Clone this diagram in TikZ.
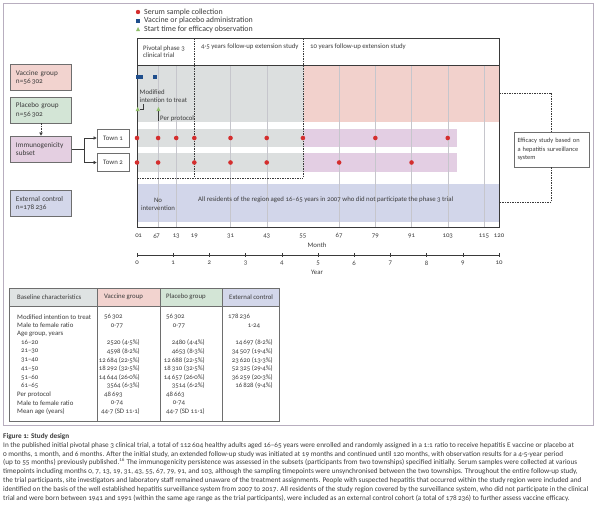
\documentclass[tikz,border=0pt]{standalone}
\usepackage{fontspec}
\setmainfont{Carlito}[Numbers=OldStyle]
\usetikzlibrary{arrows.meta}

\definecolor{inkgrey}{HTML}{3A3A3A}
\definecolor{boxgrey}{HTML}{6E6E6E}
\definecolor{framec}{HTML}{B8AEBF}
\definecolor{vacpink}{HTML}{F2D3CF}
\definecolor{placgreen}{HTML}{D3E5D6}
\definecolor{immlilac}{HTML}{E4CFE1}
\definecolor{extblue}{HTML}{D3D7EA}
\definecolor{bandgrey}{HTML}{DCDFDF}
\definecolor{bandpink}{HTML}{F2D1CC}
\definecolor{bandlilac}{HTML}{E3CEE3}
\definecolor{bandblue}{HTML}{D2D6EA}
\definecolor{thgrey}{HTML}{DFE3E3}
\definecolor{gridc}{HTML}{C6C6CC}
\definecolor{dotred}{HTML}{D42E2E}
\definecolor{sqblue}{HTML}{1F4E8C}
\definecolor{trigreen}{HTML}{8FBF6A}

\tikzset{
  txt/.style={font=\fontsize{6.8}{7.6}\selectfont, text=inkgrey, inner sep=0pt},
  legtxt/.style={font=\fontsize{7.9}{8.4}\selectfont, text=inkgrey, inner sep=0pt, anchor=west},
  grpbox/.style={draw=boxgrey, line width=0.6pt, font=\fontsize{7.2}{8.6}\selectfont, text=inkgrey,
    text width=50pt, inner xsep=5.5pt, inner ysep=0pt, minimum height=26pt, align=left},
  townbox/.style={draw=boxgrey, line width=0.6pt, fill=white, font=\fontsize{6.8}{7.6}\selectfont,
    text=inkgrey, minimum width=32pt, minimum height=18pt, inner sep=0pt},
  effbox/.style={draw=boxgrey, line width=0.6pt, fill=white, font=\fontsize{6.4}{8.6}\selectfont,
    text=inkgrey, text width=68pt, inner xsep=3.5pt, minimum height=35pt, align=left},
  arr/.style={-{Triangle[length=3.2pt,width=3.2pt]}, draw=inkgrey, line width=0.5pt},
  dashln/.style={draw=inkgrey, line width=0.45pt, dash pattern=on 1.5pt off 1pt},
  gridln/.style={draw=gridc, line width=0.35pt},
  axisln/.style={draw=inkgrey, line width=0.6pt},
}

\begin{document}
\begin{tikzpicture}[x=1pt,y=-1pt]
    \useasboundingbox (0,0) rectangle (600,514);
    \draw[framec, line width=0.9pt] (3,3) rectangle (593,425);

    \fill[dotred] (138,12) circle (2.2);
    \node[legtxt] (lgserum) at (144,12) {Serum sample collection};
    \fill[sqblue] (136,18.5) rectangle (140,22.5);
    \node[legtxt] (lgvacc) at (144,20.5) {Vaccine or placebo administration};
    \fill[trigreen] (136,31) -- (140,31) -- (138,27) -- cycle;
    \node[legtxt] (lgstart) at (144,29) {Start time for efficacy observation};

    \fill[bandgrey] (137,65) rectangle (304,122);
    \fill[bandpink] (304,65) rectangle (499,122);
    \fill[bandgrey] (137,129) rectangle (304,147);
    \fill[bandlilac] (304,129) rectangle (457,147);
    \fill[bandgrey] (137,153) rectangle (304,172);
    \fill[bandlilac] (304,153) rectangle (457,172);
    \fill[bandblue] (137,184) rectangle (499,222);

    \foreach \m in {7,13,31,43,67,79,91,103,115}
        \draw[gridln] ({137+3.017*\m},65) -- ({137+3.017*\m},227);

    \draw[dashln] ({137+3.017*19},38) -- ({137+3.017*19},178);
    \draw[dashln] ({137+3.017*55},38) -- ({137+3.017*55},178);
    \draw[dashln] (137,178) -- ({137+3.017*55},178);

    \draw[axisln] (137,38) rectangle (499,227);
    \draw[axisln] (137,65) -- (499,65);

    \node[txt, anchor=west, align=left] (hdpivot) at (143,51.5) {Pivotal phase 3\\clinical trial};
    \node[txt, anchor=west] (hdfollow) at (201,47) {4·5 years follow-up extension study};
    \node[txt, anchor=west] (hdten) at (310,47) {10 years follow-up extension study};

    \fill[sqblue] (136,75) rectangle (143,79);
    \fill[sqblue] (153,75) rectangle (157,79);

    \node[txt, anchor=west, align=left] (mitt) at (139.5,96) {Modified\\intention to treat};
    \fill[trigreen] (135.7,111) -- (139.7,111) -- (137.7,107) -- cycle;
    \draw[inkgrey, line width=0.5pt] (139.5,109.5) -| (143.5,103.5);
    \fill[trigreen] (156.4,111) -- (160.4,111) -- (158.4,107) -- cycle;
    \draw[inkgrey, line width=0.5pt] (158.4,111) -- (158.4,121);
    \node[txt, anchor=west] (perprot) at (160,118.5) {Per protocol};

    \foreach \m in {0,7,13,19,31,43,55,79,103}
        \fill[dotred] ({137+3.017*\m},138) circle (2.3);
    \foreach \m in {0,7,19,31,43,67,91}
        \fill[dotred] ({137+3.017*\m},162.5) circle (2.3);

    \node[txt, align=center] (nointerv) at (158,204.5) {No\\intervention};
    \node[txt, anchor=west] (allres) at (198,200) {All residents of the region aged 16–65 years in 2007 who did not participate the phase 3 trial};

    \foreach \m in {0,1,6,7,13,19,31,43,55,67,79,91,103,115,120}
        \node[txt] (mo\m) at ({137+3.017*\m},236) {\m};
    \node[txt] (monthlab) at (317,245) {Month};

    \draw[axisln] (137,255) -- (499,255);
    \foreach \y in {0,...,10} {
        \draw[axisln] ({137+36.2*\y},253) -- ({137+36.2*\y},257);
        \node[txt] (yr\y) at ({137+36.2*\y},263) {\y};
    }
    \node[txt] (yearlab) at (317,272) {Year};

    \node[grpbox, fill=vacpink] (vacgrp) at (41,77.5) {Vaccine group\\n=56\,302};
    \node[grpbox, fill=placgreen] (placgrp) at (41,110) {Placebo group\\n=56\,302};
    \node[grpbox, fill=immlilac] (immsub) at (41,149) {Immunogenicity\\subset};
    \node[grpbox, fill=extblue] (extctl) at (41,203.5) {External control\\n=178\,236};
    \node[townbox] (town1) at (113,138) {Town 1};
    \node[townbox] (town2) at (113,162.5) {Town 2};

    \draw[arr, dashln] (placgrp.south) -- (immsub.north);
    \draw[inkgrey, line width=0.5pt] (immsub.east) -- ++(12,0) coordinate (fork);
    \draw[arr] (fork) |- (town1.west);
    \draw[arr] (fork) |- (town2.west);

    \node[effbox] (effbox) at (551.5,149.5) {Efficacy study based on\\a hepatitis surveillance\\system};
    \coordinate (pinkend) at (499,93);
    \coordinate (blueend) at (499,202);
    \draw[dashln] (pinkend) -| (effbox.north);
    \draw[dashln] (effbox.south) |- (blueend);

    \fill[thgrey] (9,288) rectangle (97,306);
    \fill[vacpink] (97,288) rectangle (160,306);
    \fill[placgreen] (160,288) rectangle (222,306);
    \fill[extblue] (222,288) rectangle (279,306);
    \draw[axisln, draw=boxgrey] (9,288) rectangle (279,421);
    \draw[axisln, draw=boxgrey] (9,306) -- (279,306);
    \foreach \x in {97,160,222}
        \draw[axisln, draw=boxgrey] (\x,288) -- (\x,421);

    \node[txt, anchor=west] (thbase) at (17,297) {Baseline characteristics};
    \node[txt, anchor=west] (thvac) at (104,297) {Vaccine group};
    \node[txt, anchor=west] (thplac) at (166,297) {Placebo group};
    \node[txt, anchor=west] (thext) at (229,297) {External control};

    \foreach \lab [count=\i] in {Modified intention to treat, Male to female ratio, {Age group, years},
        \hspace{4pt}16–20, \hspace{4pt}21–30, \hspace{4pt}31–40, \hspace{4pt}41–50, \hspace{4pt}51–60,
        \hspace{4pt}61–65, Per protocol, Male to female ratio, Mean age (years)}
        \node[txt, anchor=west] (rowlab\i) at (17,{317+8.6*(\i-1)}) {\lab};

    \node[txt, anchor=west] (vacmitt) at (104,317) {56\,302};
    \node[txt, anchor=west] (placmitt) at (166,317) {56\,302};
    \node[txt, anchor=west] (extmitt) at (228,317) {178\,236};
    \node[txt] (vacratio) at (117,325.6) {0·77};
    \node[txt] (placratio) at (179,325.6) {0·77};
    \node[txt] (extratio) at (254,325.6) {1·24};
    \foreach \v/\p/\e [count=\i from 4] in {2520 (4·5\%)/2480 (4·4\%)/14\,697 (8·2\%),
        4598 (8·2\%)/4653 (8·3\%)/34\,507 (19·4\%),
        12\,684 (22·5\%)/12\,688 (22·5\%)/23\,620 (13·3\%),
        18\,292 (32·5\%)/18\,310 (32·5\%)/52\,325 (29·4\%),
        14\,644 (26·0\%)/14\,657 (26·0\%)/36\,259 (20·3\%),
        3564 (6·3\%)/3514 (6·2\%)/16\,828 (9·4\%)} {
        \node[txt, anchor=east] (vacage\i) at (140,{317+8.6*(\i-1)}) {\v};
        \node[txt, anchor=east] (placage\i) at (205,{317+8.6*(\i-1)}) {\p};
        \node[txt, anchor=east] (extage\i) at (273,{317+8.6*(\i-1)}) {\e};
    }
    \node[txt, anchor=west] (vacpp) at (104,394.4) {48\,693};
    \node[txt, anchor=west] (placpp) at (166,394.4) {48\,663};
    \node[txt] (vacppratio) at (117,403) {0·74};
    \node[txt] (placppratio) at (179,403) {0·74};
    \node[txt, anchor=east] (vacmean) at (140,411.6) {44·7 (SD 11·1)};
    \node[txt, anchor=east] (placmean) at (205,411.6) {44·7 (SD 11·1)};

    \node[anchor=north west, inner sep=0pt, align=left, text=inkgrey, font=\fontsize{7.2}{8.9}\selectfont] (caption) at (3,433) {%
        \textbf{Figure 1: Study design}\\
        In the published initial pivotal phase 3 clinical trial, a total of 112\,604 healthy adults aged 16–65 years were enrolled and randomly assigned in a 1:1 ratio to receive hepatitis E vaccine or placebo at\\
        0 months, 1 month, and 6 months. After the initial study, an extended follow-up study was initiated at 19 months and continued until 120 months, with observation results for a 4·5-year period\\
        (up to 55 months) previously published.\textsuperscript{16} The immunogenicity persistence was assessed in the subsets (participants from two townships) specified initially. Serum samples were collected at various\\
        timepoints including months 0, 7, 13, 19, 31, 43, 55, 67, 79, 91, and 103, although the sampling timepoints were unsynchronised between the two townships. Throughout the entire follow-up study,\\
        the trial participants, site investigators and laboratory staff remained unaware of the treatment assignments. People with suspected hepatitis that occurred within the study region were included and\\
        identified on the basis of the well established hepatitis surveillance system from 2007 to 2017. All residents of the study region covered by the surveillance system, who did not participate in the clinical\\
        trial and were born between 1941 and 1991 (within the same age range as the trial participants), were included as an external control cohort (a total of 178\,236) to further assess vaccine efficacy.};
\end{tikzpicture}
\end{document}
